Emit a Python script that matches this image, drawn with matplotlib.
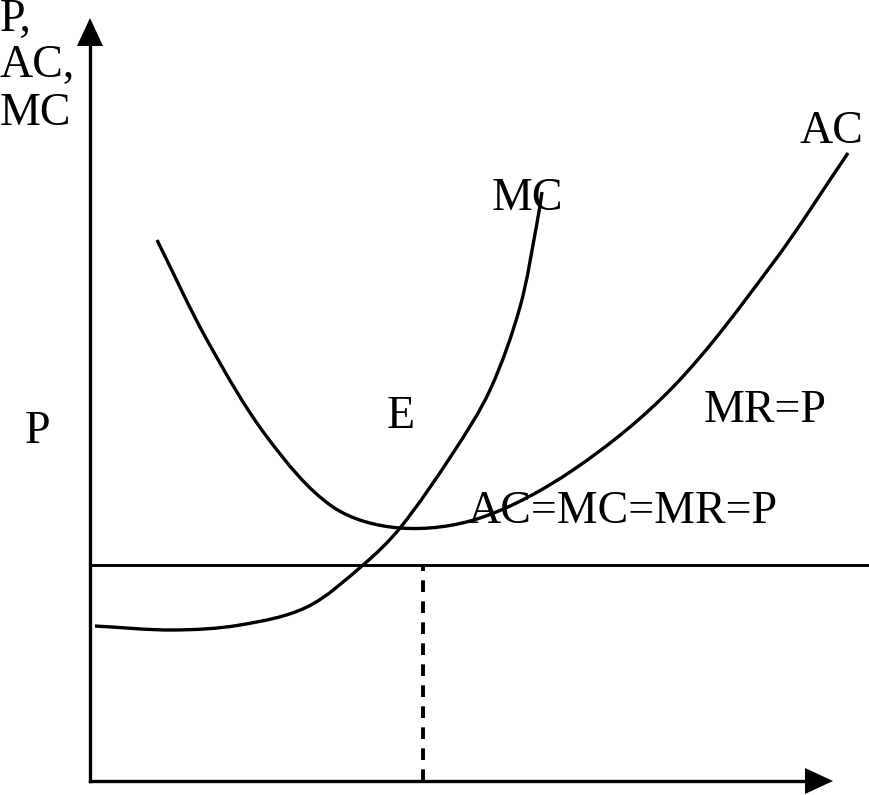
import numpy as np
import matplotlib
matplotlib.use("Agg")
import matplotlib.pyplot as plt
from matplotlib.path import Path
from matplotlib.patches import PathPatch

# ---------- DATA (origin at the axes corner) ----------
# average cost curve (U shape)
ac_q = [67, 117, 177, 243, 310, 390, 483, 583, 683, 758]
ac_p = [541, 441, 344, 274, 253, 263, 311, 394, 518, 628]

# marginal cost curve
mc_q = [5, 83, 150, 217, 273, 310, 363, 400, 430, 447, 452]
mc_p = [155, 151, 156, 174, 216, 253, 328, 391, 474, 558, 589]

price_level = 216      # horizontal MR = P line
q_star = 333           # dashed output line
y_top = 763            # y axis arrow tip
x_right = 743          # x axis arrow tip


def smooth_path(xs, ys):
    # bezier segments through the read points (chord-length catmull-rom)
    pts = np.column_stack([xs, ys]).astype(float)
    n = len(pts)
    t = np.concatenate([[0], np.cumsum(np.hypot(*np.diff(pts, axis=0).T))])
    tang = np.zeros_like(pts)
    for i in range(n):
        a, b = max(i - 1, 0), min(i + 1, n - 1)
        tang[i] = (pts[b] - pts[a]) / (t[b] - t[a])
    verts = [pts[0]]
    codes = [Path.MOVETO]
    for i in range(n - 1):
        h = t[i + 1] - t[i]
        verts += [pts[i] + tang[i] * h / 3, pts[i + 1] - tang[i + 1] * h / 3, pts[i + 1]]
        codes += [Path.CURVE4] * 3
    return Path(verts, codes)


# ---------- PLOT ----------
plt.rcParams["font.family"] = ["Liberation Serif", "DejaVu Serif"]

fig = plt.figure(figsize=(8.69, 7.95), dpi=100)
ax = fig.add_axes([0, 0, 1, 1])
ax.set_xlim(-90, 779)
ax.set_ylim(-14, 781)
ax.axis("off")

lw = 2.4
# axes with arrows
ax.plot([0, 0], [0, y_top - 26], color="black", lw=lw)
ax.plot([0, x_right - 26], [0, 0], color="black", lw=lw)
ax.fill([-13, 13, 0], [y_top - 28, y_top - 28, y_top], color="black", lw=0)
ax.fill([x_right - 28, x_right - 28, x_right], [-13, 13, 0], color="black", lw=0)

# price line and dashed output
ax.plot([0, 779], [price_level, price_level], color="black", lw=2.1)
ax.plot([q_star, q_star], [0, price_level], color="black", lw=2.8,
        linestyle=(0, (3.0, 2.4)))

# curves
for xs, ys in [(ac_q, ac_p), (mc_q, mc_p)]:
    ax.add_patch(PathPatch(smooth_path(xs, ys), facecolor="none",
                           edgecolor="black", lw=lw, capstyle="butt"))

fs = 33
ax.text(-90, 750, "P,", fontsize=fs, va="baseline", ha="left")
ax.text(-90, 704, "AC,", fontsize=fs, va="baseline", ha="left")
ax.text(-90, 656, "MC", fontsize=fs, va="baseline", ha="left")
ax.text(-65, 338, "P", fontsize=fs, va="baseline", ha="left")
ax.text(297, 353, "E", fontsize=fs, va="baseline", ha="left")
ax.text(402, 571, "MC", fontsize=fs, va="baseline", ha="left")
ax.text(709, 638, "AC", fontsize=fs, va="baseline", ha="left")
ax.text(614, 359, "MR=P", fontsize=fs, va="baseline", ha="left")
ax.text(377, 258, "AC=MC=MR=P", fontsize=fs, va="baseline", ha="left")

fig.savefig("out.png", dpi=100, facecolor="white")
